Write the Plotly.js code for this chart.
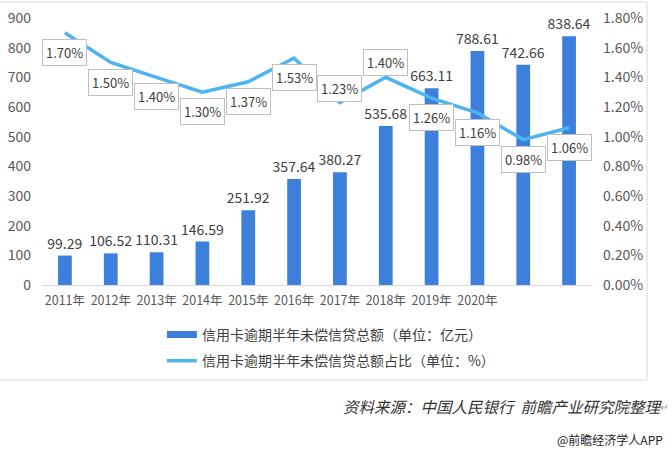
<!DOCTYPE html>
<html>
<head>
<meta charset="utf-8">
<script src="https://cdn.plot.ly/plotly-3.0.1.min.js"></script>
<style>
  body { margin: 0; background: #fff; }
  #chart { width: 672px; height: 450px; }
</style>
</head>
<body>
<div id="chart"></div>
<script>
// tick labels under the bars (only the first ten bars carry one)
var yearLabels = ['2011年', '2012年', '2013年', '2014年', '2015年', '2016年', '2017年', '2018年', '2019年', '2020年'];
// 信用卡逾期半年未偿信贷总额（亿元）
var overdueAmount = [99.29, 106.52, 110.31, 146.59, 251.92, 357.64, 380.27, 535.68, 663.11, 788.61, 742.66, 838.64];
// 占比（%）
var overdueShare = [1.70, 1.50, 1.40, 1.30, 1.37, 1.53, 1.23, 1.40, 1.26, 1.16, 0.98, 1.06];

var barName = '信用卡逾期半年未偿信贷总额（单位：亿元）';
var lineName = '信用卡逾期半年未偿信贷总额占比（单位：%）';

var font = 'Microsoft YaHei, "Noto Sans CJK SC", sans-serif';
var barColor = '#3c80dc';
var lineColor = '#4eb4ef';

var idx = overdueAmount.map(function (v, i) { return i; });

var bars = {
  x: idx,
  y: overdueAmount,
  type: 'bar',
  marker: { color: barColor },
  text: overdueAmount.map(function (v) { return v.toFixed(2); }),
  textposition: 'outside',
  constraintext: 'none',
  textfont: { family: font, size: 14, color: '#404040' },
  cliponaxis: false,
  showlegend: false,
  hoverinfo: 'skip'
};

// legend proxy so the bar key looks like a wide strip
var barKey = {
  x: [null], y: [null],
  type: 'scatter', mode: 'lines',
  line: { color: barColor, width: 7 },
  name: barName,
  legendgroup: 'a'
};

var line = {
  x: idx,
  y: overdueShare,
  yaxis: 'y2',
  type: 'scatter',
  mode: 'lines',
  line: { color: lineColor, width: 3.5 },
  name: lineName,
  legendgroup: 'b'
};

// labels sit below the line, except the two where the line dips
var labelsAbove = [6, 7];
var annotations = overdueShare.map(function (v, i) {
  var up = labelsAbove.indexOf(i) >= 0;
  return {
    x: i, y: v, xref: 'x', yref: 'y2',
    text: v.toFixed(2) + '%',
    showarrow: false,
    yanchor: up ? 'bottom' : 'top',
    yshift: up ? 1 : -6,
    font: { family: font, size: 13, color: '#404040' },
    bgcolor: '#ffffff',
    bordercolor: '#bfbfbf',
    borderwidth: 1,
    borderpad: 3
  };
});

annotations.push({
  xref: 'paper', yref: 'paper',
  x: 1.131, y: -0.455, xanchor: 'right', yanchor: 'middle',
  text: '<i>资料来源：中国人民银行  前瞻产业研究院整理</i>',
  showarrow: false,
  font: { family: font, size: 15.5, color: '#333333' }
});
annotations.push({
  xref: 'paper', yref: 'paper',
  x: 1.142, y: -0.455, xanchor: 'right', yanchor: 'middle',
  text: '↵',
  showarrow: false,
  font: { family: font, size: 10, color: '#999999' }
});
annotations.push({
  xref: 'paper', yref: 'paper',
  x: 1.132, y: -0.58, xanchor: 'right', yanchor: 'middle',
  text: '@前瞻经济学人APP',
  showarrow: false,
  font: { family: font, size: 12, color: '#222222' }
});

var frameColor = '#d9d9d9';
var shapes = [
  { type: 'line', xref: 'paper', yref: 'paper', x0: -0.08, x1: 1.1, y0: 1.06, y1: 1.06, line: { color: frameColor, width: 1 } },
  { type: 'line', xref: 'paper', yref: 'paper', x0: 1.1, x1: 1.1, y0: 1.06, y1: -0.356, line: { color: frameColor, width: 1 } },
  { type: 'line', xref: 'paper', yref: 'paper', x0: -0.08, x1: 1.1, y0: -0.356, y1: -0.356, line: { color: frameColor, width: 1 } }
];

var layout = {
  width: 672,
  height: 450,
  margin: { l: 42, r: 80, t: 18, b: 165 },
  paper_bgcolor: '#ffffff',
  plot_bgcolor: '#ffffff',
  font: { family: font, size: 14, color: '#595959' },
  bargap: 0.7,
  showlegend: true,
  legend: {
    x: 0.218, y: -0.127, xanchor: 'left', yanchor: 'top',
    orientation: 'v',
    traceorder: 'grouped',
    tracegroupgap: 5,
    font: { family: font, size: 14, color: '#404040' },
    bgcolor: 'rgba(0,0,0,0)'
  },
  xaxis: {
    range: [-0.5, 11.5],
    tickmode: 'array',
    tickvals: yearLabels.map(function (v, i) { return i; }),
    ticktext: yearLabels,
    tickangle: 0,
    ticklabelstandoff: 4,
    showgrid: false,
    zeroline: false,
    showline: true,
    linecolor: '#d9d9d9',
    linewidth: 1,
    ticks: '',
    tickfont: { family: font, size: 12.5, color: '#595959' },
    fixedrange: true
  },
  yaxis: {
    range: [0, 900],
    dtick: 100,
    showgrid: false,
    zeroline: false,
    showline: false,
    ticks: '',
    ticklabelstandoff: 10,
    tickfont: { family: font, size: 14, color: '#595959' }
  },
  yaxis2: {
    overlaying: 'y',
    side: 'right',
    range: [0, 1.8],
    dtick: 0.2,
    tickformat: '.2f',
    ticksuffix: '%',
    showgrid: false,
    zeroline: false,
    showline: false,
    ticks: '',
    ticklabelstandoff: 10,
    tickfont: { family: font, size: 14, color: '#595959' }
  },
  annotations: annotations,
  shapes: shapes
};

Plotly.newPlot('chart', [bars, barKey, line], layout, { displayModeBar: false, staticPlot: true });
</script>
</body>
</html>
